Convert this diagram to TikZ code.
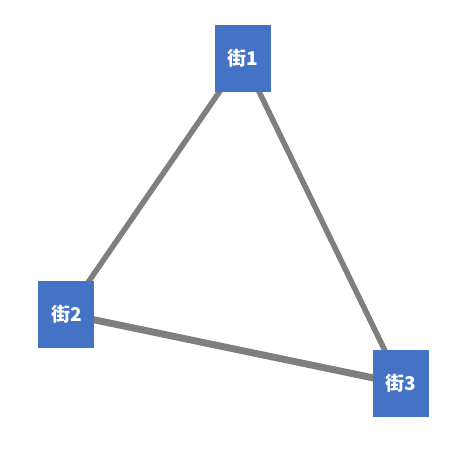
\documentclass[tikz,border=0pt]{standalone}
\usepackage{fontspec}
\newfontfamily\cjk{Noto Sans CJK JP}
\usetikzlibrary{positioning, backgrounds}
\definecolor{streetblue}{HTML}{4472C4}
\definecolor{roadgray}{HTML}{7F7F7F}

\begin{document}
\begin{tikzpicture}[x=1pt, y=-1pt,
        street/.style={rectangle, fill=streetblue, text=white, minimum width=56pt, minimum height=67pt, inner sep=0pt, font=\cjk\bfseries\fontsize{19}{22}\selectfont},
        road/.style={draw=roadgray, line width=5.5pt}]
        \useasboundingbox (0,0) rectangle (472,472);
        \node (S1) [street] at (242.7,58) {街1};
        \node (S2) [street] at (66.3,314) {街2};
        \node (S3) [street] at (401,383.7) {街3};

        \begin{pgfonlayer}{background}
        \path
            (S1.center) edge[road] (S2.center)
            (S1.center) edge[road] (S3.center)
            (S2.center) edge[road, line width=7pt] (S3.center);
        \end{pgfonlayer}
    \end{tikzpicture}
\end{document}
